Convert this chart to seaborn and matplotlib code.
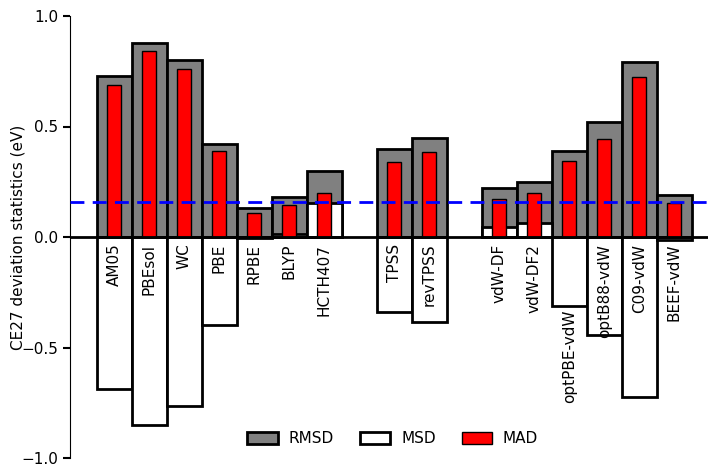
import pandas as pd
import matplotlib
matplotlib.use("Agg")
import matplotlib.pyplot as plt
import seaborn as sns
from matplotlib.patches import Patch

# CE27 deviation statistics per functional (eV)
functionals = ["AM05", "PBEsol", "WC", "PBE", "RPBE", "BLYP", "HCTH407",
               "TPSS", "revTPSS",
               "vdW-DF", "vdW-DF2", "optPBE-vdW", "optB88-vdW", "C09-vdW", "BEEF-vdW"]
posicion = [0, 1, 2, 3, 4, 5, 6, 8, 9, 11, 12, 13, 14, 15, 16]
rmsd = [0.73, 0.88, 0.80, 0.42, 0.13, 0.18, 0.30, 0.40, 0.45,
        0.22, 0.25, 0.39, 0.52, 0.79, 0.19]
msd = [-0.69, -0.85, -0.765, -0.40, -0.005, 0.015, 0.155, -0.34, -0.385,
       0.045, 0.063, -0.31, -0.445, -0.725, -0.015]
mad = [0.69, 0.84, 0.76, 0.39, 0.11, 0.145, 0.20, 0.34, 0.385,
       0.17, 0.20, 0.345, 0.445, 0.725, 0.155]
precision_quimica = 0.16
# la etiqueta de optPBE-vdW va debajo de su barra MSD
etiqueta_abajo = ["optPBE-vdW"]

datos = pd.DataFrame({"pos": posicion, "nombre": functionals,
                      "RMSD": rmsd, "MSD": msd, "MAD": mad})

fig = plt.figure(figsize=(7.08, 4.66), dpi=100)
ax = fig.add_axes([70 / 708, 8 / 466, 638 / 708, 442 / 466])

sns.barplot(data=datos, x="pos", y="RMSD", native_scale=True, width=1.0,
            color="#808080", edgecolor="black", linewidth=2, saturation=1,
            errorbar=None, ax=ax)
sns.barplot(data=datos, x="pos", y="MSD", native_scale=True, width=1.0,
            color="white", edgecolor="black", linewidth=2, saturation=1,
            errorbar=None, ax=ax)
sns.barplot(data=datos, x="pos", y="MAD", native_scale=True, width=0.4,
            color="red", edgecolor="black", linewidth=1, saturation=1,
            errorbar=None, ax=ax)

ax.axhline(0, color="black", lw=2, zorder=5)
ax.axhline(precision_quimica, color="blue", lw=2, ls=(0, (5, 3)), zorder=6)

for p, n, m in zip(posicion, functionals, msd):
    y_txt = m - 0.02 if n in etiqueta_abajo else -0.03
    ax.text(p, y_txt, n, rotation=90, ha="center", va="top", fontsize=11, zorder=7)

ax.set_xlim(-1.27, 16.96)
ax.set_ylim(-1.0, 1.0)
ax.set_xticks([])
ax.set_xlabel("")
ax.set_yticks([-1.0, -0.5, 0.0, 0.5, 1.0])
ax.tick_params(axis="y", labelsize=11, direction="out", length=5, width=1.5)
ax.set_ylabel("CE27 deviation statistics (eV)", fontsize=11)
ax.yaxis.set_label_coords(-0.0705, 0.5)
for s in ["top", "right", "bottom"]:
    ax.spines[s].set_visible(False)

manijas = [Patch(facecolor="#808080", edgecolor="black", lw=2, label="RMSD"),
           Patch(facecolor="white", edgecolor="black", lw=2, label="MSD"),
           Patch(facecolor="red", edgecolor="black", lw=1, label="MAD")]
ax.legend(handles=manijas, loc="center", bbox_to_anchor=(0.506, 0.043), ncol=3,
          frameon=False, fontsize=11, handlelength=2.0, handleheight=0.8,
          handletextpad=0.7, columnspacing=1.7)

fig.savefig("out.png", dpi=100)
